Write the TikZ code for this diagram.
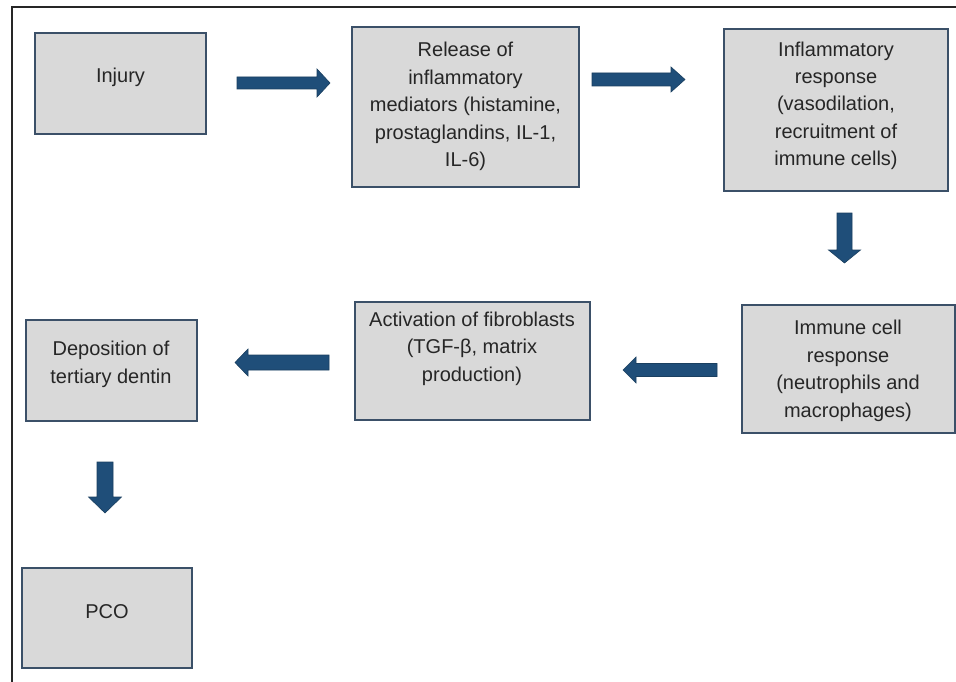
\documentclass[tikz,border=0pt]{standalone}
\usepackage{fontspec}
\setmainfont{Liberation Sans}
\definecolor{boxfill}{HTML}{D9D9D9}
\definecolor{boxline}{HTML}{3B5068}
\definecolor{arrfill}{HTML}{1F4E79}
\definecolor{arrline}{HTML}{1A3F60}
\definecolor{txtcol}{HTML}{262626}
\newcommand\hbarrow[6]{% start x, head base x, tip x, center y, shaft half, head half
  \filldraw[arrowsty] (#1,#4-#5) -- (#2,#4-#5) -- (#2,#4-#6) -- (#3,#4) -- (#2,#4+#6) -- (#2,#4+#5) -- (#1,#4+#5) -- cycle;}
\newcommand\vbarrow[6]{% start y, head base y, tip y, center x, shaft half, head half
  \filldraw[arrowsty] (#4-#5,#1) -- (#4-#5,#2) -- (#4-#6,#2) -- (#4,#3) -- (#4+#6,#2) -- (#4+#5,#2) -- (#4+#5,#1) -- cycle;}
\begin{document}
\begin{tikzpicture}[x=1pt,y=-1pt,
  boxsty/.style={draw=boxline, fill=boxfill, line width=1.1pt, inner sep=0pt},
  txt/.style={text=txtcol, align=center, inner sep=0pt, font=\fontsize{20}{27.5}\selectfont},
  arrowsty/.style={fill=arrfill, draw=arrline, line width=0.6pt, line join=miter}]
\useasboundingbox (0,0) rectangle (956,682);
\fill[white] (0,0) rectangle (956,682);
\draw[line width=2pt, black!85] (12,682) -- (12,7) -- (956,7);

% boxes
\node[boxsty, minimum width=171pt, minimum height=101pt] (injury) at (120.5,83.5) {};
\node[boxsty, minimum width=227pt, minimum height=160pt] (release) at (465.5,107) {};
\node[boxsty, minimum width=224pt, minimum height=162pt] (inflam) at (836,110) {};
\node[boxsty, minimum width=213pt, minimum height=128pt] (immune) at (848.5,369) {};
\node[boxsty, minimum width=235pt, minimum height=118pt] (activ) at (472.5,361) {};
\node[boxsty, minimum width=171pt, minimum height=101pt] (depos) at (111.5,370.5) {};
\node[boxsty, minimum width=170pt, minimum height=100pt] (pco) at (107,618) {};

% texts
\node[txt] (injuryT) at (120.5,77.5) {\strut Injury\strut};
\node[txt] (releaseT) at (465.5,106.5) {\strut Release of\\inflammatory\\mediators (histamine,\\prostaglandins, IL-1,\\IL-6)\strut};
\node[txt] (inflamT) at (836,105.5) {\strut Inflammatory\\response\\(vasodilation,\\recruitment of\\immune cells)\strut};
\node[txt] (immuneT) at (848,370.5) {\strut Immune cell\\response\\(neutrophils and\\macrophages)\strut};
\node[txt] (activT) at (472,348) {\strut Activation of fibroblasts\\(TGF-β, matrix\\production)\strut};
\node[txt] (deposT) at (111,364) {\strut Deposition of\\tertiary dentin\strut};
\node[txt] (pcoT) at (107,612.5) {\strut PCO\strut};

% block arrows
\hbarrow{237}{317}{330}{83}{6}{14}
\hbarrow{592}{671}{685}{79.5}{6.5}{12.5}
\vbarrow{213}{250}{263}{844.5}{7.5}{16}
\hbarrow{717}{636}{623}{370}{6.5}{13}
\hbarrow{329}{248}{235}{362.5}{7.5}{13.5}
\vbarrow{462}{497}{513}{105}{8}{16.5}
\end{tikzpicture}
\end{document}
